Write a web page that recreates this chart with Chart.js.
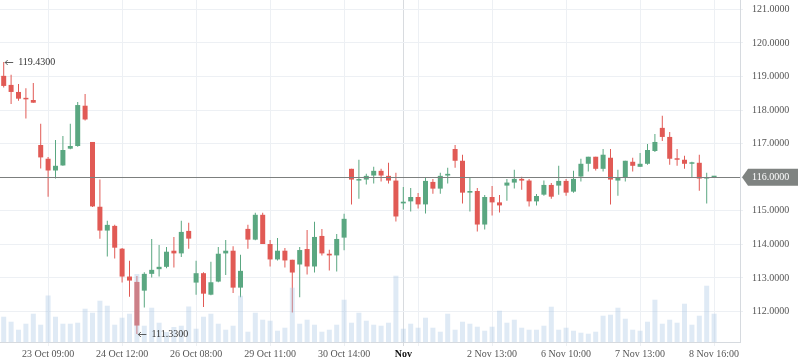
<!DOCTYPE html>
<html lang="en">
<head>
  <meta charset="UTF-8" />
  <title>Price candles</title>
  <script src="https://cdn.jsdelivr.net/npm/chart.js"></script>
  <style>
    body {
      margin: 0;
      background: #ffffff;
      overflow: hidden;
    }
    .wrap {
      width: 798px;
      height: 363px;
      position: relative;
    }
  </style>
</head>
<body>
  <div class="wrap"><canvas id="chart"></canvas></div>

  <script>
    // OHLC, one entry per candle
    const opens = [
      119.02, 118.75, 118.54, 118.34, 118.30, 116.96, 116.55, 116.20, 116.35, 116.85,
      116.93, 118.13, 117.05, 115.12, 114.41, 114.55, 113.87, 113.04, 112.88, 112.62,
      113.12, 113.26, 113.33, 113.81, 113.73, 114.40, 112.86, 113.14, 112.50, 112.89,
      113.73, 113.81, 112.71, 114.46, 114.14, 114.88, 114.01, 113.55, 113.81, 113.54,
      113.40, 113.86, 113.34, 114.25, 113.72, 113.67, 114.20, 116.25, 115.90, 115.93,
      116.05, 116.19, 116.04, 115.90, 115.22, 115.28, 115.41, 115.19, 115.86, 115.66,
      116.05, 116.84, 116.49, 115.54, 115.59, 114.59, 115.41, 115.25, 115.75, 115.84,
      115.95, 115.90, 115.28, 115.48, 115.77, 115.75, 115.89, 115.57, 116.02, 116.40,
      116.61, 116.25, 116.58, 115.90, 115.99, 116.46, 116.31, 116.40, 116.78, 117.47,
      117.20, 116.55, 116.52, 116.40, 116.43, 115.96, 116.00
    ];
    const highs = [
      119.43, 119.05, 118.78, 118.65, 118.81, 117.59, 116.60, 117.11, 117.23, 117.59,
      118.24, 118.48, 117.05, 115.93, 114.70, 114.58, 113.89, 113.51, 113.06, 113.17,
      114.16, 113.98, 113.92, 114.22, 114.70, 114.64, 113.51, 113.17, 113.48, 113.92,
      114.13, 113.94, 113.69, 114.58, 114.94, 114.94, 114.13, 114.19, 113.89, 113.54,
      113.92, 114.43, 114.67, 114.46, 113.84, 114.31, 114.91, 116.25, 116.52, 116.10,
      116.31, 116.25, 116.43, 116.13, 115.71, 115.68, 115.53, 115.99, 115.95, 116.13,
      116.28, 116.96, 116.67, 115.99, 115.68, 115.47, 115.74, 115.47, 115.95, 116.22,
      116.01, 115.95, 115.50, 115.90, 115.83, 116.34, 115.95, 116.19, 116.55, 116.61,
      116.61, 116.84, 116.84, 116.22, 116.49, 116.58, 116.72, 116.99, 117.29, 117.83,
      117.35, 116.84, 116.64, 116.46, 116.67, 116.13, 116.00
    ];
    const lows = [
      118.67, 118.18, 118.28, 117.75, 118.22, 116.26, 115.42, 115.96, 116.34, 116.83,
      116.91, 117.69, 115.11, 114.17, 113.64, 113.58, 112.86, 112.44, 111.33, 112.12,
      113.01, 113.04, 113.29, 113.31, 113.62, 113.87, 112.50, 112.13, 112.48, 112.87,
      113.09, 112.55, 112.42, 113.87, 114.12, 114.01, 113.34, 113.52, 113.31, 111.97,
      112.42, 113.10, 113.16, 113.67, 113.22, 113.19, 113.82, 115.19, 115.36, 115.78,
      115.81, 115.87, 115.81, 114.68, 115.04, 114.98, 115.07, 114.92, 115.51, 115.51,
      115.81, 116.28, 115.22, 114.98, 114.38, 114.44, 114.86, 114.95, 115.30, 115.66,
      115.63, 115.13, 115.16, 115.45, 115.36, 115.48, 115.45, 115.54, 115.87, 116.17,
      116.20, 116.17, 115.19, 115.45, 115.87, 116.17, 116.31, 116.37, 116.75, 117.08,
      116.37, 116.34, 116.25, 115.99, 115.60, 115.22, 116.00
    ];
    const closes = [
      118.72, 118.54, 118.34, 118.32, 118.22, 116.59, 116.20, 116.34, 116.81, 116.93,
      118.15, 117.72, 115.13, 114.41, 114.58, 113.90, 113.04, 112.92, 111.58, 113.12,
      113.24, 113.33, 113.78, 113.73, 114.37, 114.17, 113.14, 112.53, 112.87, 113.72,
      113.81, 112.71, 113.21, 114.14, 114.88, 114.01, 113.55, 113.81, 113.52, 113.16,
      113.83, 113.34, 114.22, 113.73, 113.67, 114.16, 114.76, 115.93, 115.93, 116.04,
      116.19, 116.05, 115.90, 114.83, 115.27, 115.41, 115.19, 115.89, 115.66, 116.04,
      116.10, 116.49, 115.54, 115.59, 114.59, 115.41, 115.25, 115.16, 115.84, 115.95,
      115.90, 115.28, 115.44, 115.77, 115.42, 115.89, 115.54, 115.95, 116.40, 116.61,
      116.25, 116.67, 115.93, 115.99, 116.49, 116.34, 116.40, 116.81, 117.05, 117.20,
      116.55, 116.52, 116.40, 116.43, 115.96, 115.99, 116.00
    ];
    const volumes = [
      253, 203, 123, 183, 283, 173, 465, 253, 183, 183,
      193, 333, 293, 413, 363, 173, 243, 283, 680, 163,
      343, 193, 100, 150, 163, 355, 133, 253, 283, 183,
      123, 163, 463, 103, 293, 223, 213, 113, 143, 543,
      183, 223, 173, 103, 123, 173, 423, 193, 293, 213,
      173, 163, 193, 663, 133, 183, 143, 243, 143, 103,
      283, 123, 203, 183, 153, 113, 153, 313, 193, 223,
      143, 123, 123, 163, 353, 123, 143, 113, 93, 83,
      103, 263, 273, 343, 233, 123, 113, 203, 423, 183,
      223, 193, 383, 173, 263, 563, 283
    ];
    const lastPrice = 116.0;

    // x tick positions (candle index) and their labels
    const tickIdx = [6, 16, 26, 36, 46, 54, 56, 66, 76, 86, 96];
    const tickText = ['23 Oct 09:00', '24 Oct 12:00', '26 Oct 08:00', '29 Oct 11:00', '30 Oct 14:00',
      'Nov', '', '2 Nov 13:00', '6 Nov 10:00', '7 Nov 13:00', '8 Nov 16:00'];
    const priceTicks = [112, 113, 114, 115, 116, 117, 118, 119, 120, 121];

    const FONT = "'Liberation Serif', 'DejaVu Serif', serif";
    const RED = '#e15a55';
    const GREEN = '#5aa781';

    const idx = opens.map((_, i) => i);
    const colors = idx.map(i => closes[i] >= opens[i] ? GREEN : RED);

    function marker(ctx, px, py, text) {
      // small left arrow then the value
      ctx.beginPath();
      ctx.moveTo(px + 1.5, py);
      ctx.lineTo(px + 9.5, py);
      ctx.moveTo(px + 4, py - 2.5);
      ctx.lineTo(px + 1.5, py);
      ctx.lineTo(px + 4, py + 2.5);
      ctx.stroke();
      ctx.fillText(text, px + 14.5, py);
    }

    const overlay = {
      id: 'overlay',
      afterDatasetsDraw(chart) {
        const { ctx, chartArea: a, scales: { x, y } } = chart;
        const py = Math.round(y.getPixelForValue(lastPrice)) + 0.5;
        ctx.save();
        ctx.strokeStyle = '#7c7f7e';
        ctx.lineWidth = 1;
        ctx.beginPath();
        ctx.moveTo(a.left, py);
        ctx.lineTo(a.right, py);
        ctx.stroke();

        // max / min markers
        const hi = highs.indexOf(Math.max(...highs));
        const lo = lows.indexOf(Math.min(...lows));
        ctx.font = '10px ' + FONT;
        ctx.fillStyle = '#333333';
        ctx.strokeStyle = '#333333';
        ctx.lineWidth = 0.8;
        ctx.textBaseline = 'middle';
        marker(ctx, x.getPixelForValue(hi), Math.round(y.getPixelForValue(highs[hi])) + 0.5, highs[hi].toFixed(4));
        marker(ctx, x.getPixelForValue(lo), Math.round(y.getPixelForValue(lows[lo])) + 0.5, lows[lo].toFixed(4));
        ctx.restore();
      },
      afterDraw(chart) {
        const { ctx, chartArea: a, scales: { y } } = chart;
        const py = y.getPixelForValue(lastPrice);
        const h = 17, x0 = a.right + 2, x1 = chart.width;
        ctx.save();
        ctx.fillStyle = '#7f8381';
        ctx.beginPath();
        ctx.moveTo(x0, py);
        ctx.lineTo(x0 + 6, py - h / 2);
        ctx.lineTo(x1, py - h / 2);
        ctx.lineTo(x1, py + h / 2);
        ctx.lineTo(x0 + 6, py + h / 2);
        ctx.closePath();
        ctx.fill();
        ctx.fillStyle = '#ffffff';
        ctx.font = '10px ' + FONT;
        ctx.textBaseline = 'middle';
        ctx.fillText(lastPrice.toFixed(4), a.right + 12, py);
        ctx.restore();
      }
    };

    const ctx = document.getElementById('chart').getContext('2d');
    new Chart(ctx, {
      type: 'bar',
      data: {
        datasets: [
          {
            label: 'Volume',
            data: idx.map(i => ({ x: i, y: volumes[i] })),
            yAxisID: 'vol',
            backgroundColor: 'rgba(165,196,226,0.36)',
            barThickness: 5,
            grouped: false,
            inflateAmount: 0,
            order: 0
          },
          {
            label: 'Body',
            data: idx.map(i => ({ x: i, y: [opens[i], closes[i]] })),
            backgroundColor: colors,
            barThickness: 5,
            minBarLength: 1.5,
            grouped: false,
            inflateAmount: 0,
            order: 1
          },
          {
            label: 'Wick',
            data: idx.map(i => ({ x: i, y: [lows[i], highs[i]] })),
            backgroundColor: colors,
            barThickness: 1,
            minBarLength: 1,
            grouped: false,
            inflateAmount: 0,
            order: 2
          }
        ]
      },
      options: {
        responsive: true,
        maintainAspectRatio: false,
        animation: false,
        devicePixelRatio: 1,
        layout: { padding: 0 },
        plugins: { legend: { display: false }, tooltip: { enabled: false } },
        scales: {
          x: {
            type: 'linear',
            min: -0.5,
            max: 99.5,
            offset: false,
            afterBuildTicks: s => { s.ticks = tickIdx.map(v => ({ value: v })); },
            afterFit: s => { s.height = 21; s.paddingLeft = 0; s.paddingRight = 0; },
            grid: {
              offset: false,
              tickLength: 4,
              color: c => (c.tick && c.tick.value === 54) ? '#d8dbdf' : '#edf0f4'
            },
            border: { color: '#d6dadf' },
            ticks: {
              autoSkip: false,
              maxRotation: 0,
              padding: 2,
              color: c => (c.tick && c.tick.value === 54) ? '#111111' : '#555555',
              font: c => ({ family: FONT, size: 10, weight: (c.tick && c.tick.value === 54) ? 'bold' : 'normal' }),
              callback: v => tickText[tickIdx.indexOf(v)]
            }
          },
          y: {
            position: 'right',
            min: 111.09,
            max: 121.28,
            afterBuildTicks: s => { s.ticks = priceTicks.map(v => ({ value: v })); },
            afterFit: s => { s.width = 58; s.paddingTop = 0; s.paddingBottom = 0; },
            grid: { color: '#edf0f4', tickLength: 3 },
            border: { color: '#d6dadf' },
            ticks: {
              padding: 9,
              color: '#555555',
              font: { family: FONT, size: 10 },
              callback: v => Number(v).toFixed(4)
            }
          },
          vol: {
            type: 'linear',
            position: 'left',
            display: false,
            min: 0,
            max: 3420
          }
        }
      },
      plugins: [overlay]
    });
  </script>
</body>
</html>
